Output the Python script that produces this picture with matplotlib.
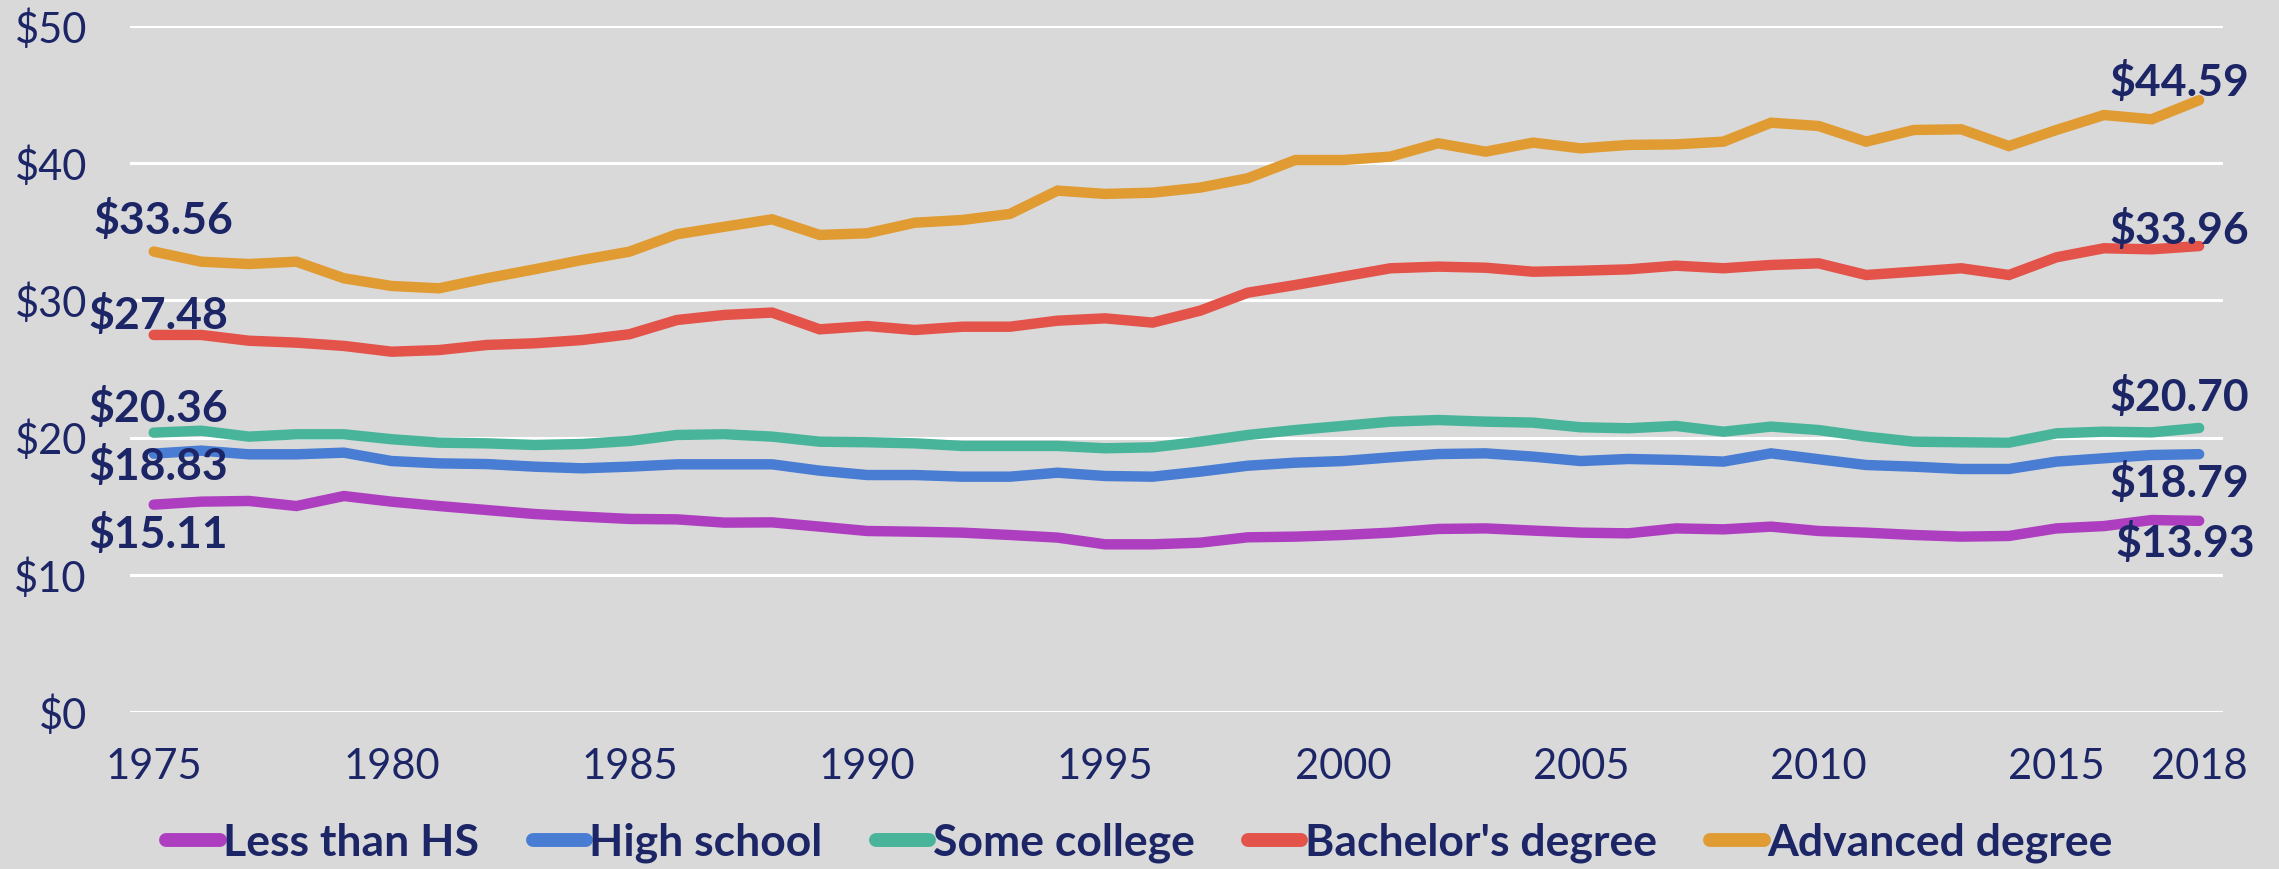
#!/usr/bin/env python3
"""
Hourly wages by education, 1975-2018.
"""

import matplotlib
matplotlib.use('Agg')
import matplotlib.pyplot as plt
from matplotlib.lines import Line2D

plt.rcParams['font.family'] = ['Lato', 'DejaVu Sans']

# data
years = list(range(1975, 2019))

less_than_hs = [15.11, 15.33, 15.38, 15.01, 15.74, 15.33, 15.01, 14.72, 14.43, 14.24,
                14.07, 14.04, 13.80, 13.82, 13.51, 13.19, 13.14, 13.07, 12.90, 12.71,
                12.22, 12.22, 12.34, 12.73, 12.78, 12.90, 13.07, 13.34, 13.38, 13.22,
                13.07, 13.02, 13.38, 13.31, 13.51, 13.19, 13.07, 12.90, 12.78, 12.83,
                13.38, 13.55, 13.99, 13.93]

high_school = [18.83, 19.05, 18.78, 18.78, 18.90, 18.29, 18.12, 18.07, 17.88, 17.76,
               17.88, 18.05, 18.05, 18.05, 17.59, 17.27, 17.27, 17.15, 17.15, 17.44,
               17.20, 17.15, 17.52, 17.95, 18.17, 18.29, 18.56, 18.80, 18.85, 18.61,
               18.29, 18.44, 18.37, 18.25, 18.85, 18.42, 18.00, 17.88, 17.71, 17.71,
               18.25, 18.49, 18.73, 18.79]

some_college = [20.36, 20.50, 20.07, 20.24, 20.24, 19.88, 19.63, 19.58, 19.46, 19.53,
                19.75, 20.19, 20.24, 20.07, 19.70, 19.66, 19.58, 19.39, 19.39, 19.39,
                19.22, 19.29, 19.70, 20.19, 20.55, 20.85, 21.16, 21.28, 21.16, 21.09,
                20.75, 20.68, 20.85, 20.43, 20.80, 20.55, 20.07, 19.70, 19.66, 19.63,
                20.31, 20.43, 20.38, 20.70]

bachelors = [27.48, 27.48, 27.06, 26.92, 26.68, 26.26, 26.38, 26.75, 26.87, 27.11,
             27.53, 28.57, 28.94, 29.11, 27.89, 28.13, 27.84, 28.08, 28.08, 28.52,
             28.69, 28.38, 29.25, 30.56, 31.12, 31.73, 32.34, 32.46, 32.38, 32.09,
             32.16, 32.26, 32.53, 32.34, 32.58, 32.70, 31.85, 32.09, 32.34, 31.85,
             33.14, 33.80, 33.72, 33.96]

advanced = [33.56, 32.82, 32.65, 32.82, 31.61, 31.05, 30.88, 31.61, 32.26, 32.94,
            33.55, 34.82, 35.37, 35.91, 34.77, 34.89, 35.66, 35.86, 36.30, 38.00,
            37.76, 37.85, 38.22, 38.90, 40.23, 40.23, 40.48, 41.45, 40.84, 41.50,
            41.08, 41.33, 41.37, 41.57, 42.95, 42.71, 41.57, 42.42, 42.47, 41.25,
            42.42, 43.51, 43.20, 44.59]

series_names = ['Less than HS', 'High school', 'Some college',
                "Bachelor's degree", 'Advanced degree']
series_values = [less_than_hs, high_school, some_college, bachelors, advanced]
colores = ['#AE3EC0', '#497CD3', '#48B59A', '#E3534A', '#E09C33']

x_ticks = [1975, 1980, 1985, 1990, 1995, 2000, 2005, 2010, 2015, 2018]
y_ticks = [0, 10, 20, 30, 40, 50]

# label offsets in pixels (start, end)
offsets_start = [(5, -29), (5, -12), (5, 25), (5, 20), (10, 32)]
offsets_end = [(-14, -22), (-20, -29), (-20, 31), (-20, 16), (-20, 18)]

BG = '#D9D9D9'
NAVY = '#1C2566'

fig = plt.figure(figsize=(22.79, 8.69), dpi=100, facecolor=BG)
ax = fig.add_axes([0.057, 0.1807, 0.9184, 0.7894], facecolor=BG)

for nombre, vals, color in zip(series_names, series_values, colores):
    ax.plot(years, vals, color=color, lw=7.5, solid_capstyle='round',
            solid_joinstyle='miter', zorder=3)

for vals, off0, off1 in zip(series_values, offsets_start, offsets_end):
    ax.annotate(f'${vals[0]:.2f}', (years[0], vals[0]), xytext=off0,
                textcoords='offset pixels', ha='center', va='center',
                fontsize=32, fontweight='bold', color=NAVY, zorder=4)
    ax.annotate(f'${vals[-1]:.2f}', (years[-1], vals[-1]), xytext=off1,
                textcoords='offset pixels', ha='center', va='center',
                fontsize=32, fontweight='bold', color=NAVY, zorder=4)

ax.set_xlim(1974.5, 2018.5)
ax.set_ylim(0, 50)
ax.set_xticks(x_ticks)
ax.set_xticklabels([str(t) for t in x_ticks])
ax.set_yticks(y_ticks)
ax.set_yticklabels([f'${t}' for t in y_ticks])
ax.tick_params(axis='both', length=0, labelsize=30, labelcolor=NAVY)
ax.tick_params(axis='x', pad=26)
ax.tick_params(axis='y', pad=31)
ax.grid(axis='y', color='white', lw=2.2, zorder=1)
ax.grid(axis='x', visible=False)
for s in ax.spines.values():
    s.set_visible(False)

handles = [Line2D([0], [0], color=c, lw=10, solid_capstyle='round') for c in colores]
leg = fig.legend(handles, series_names, loc='center', bbox_to_anchor=(0.5, 0.03),
                 ncol=5, frameon=False, handlelength=1.2, handletextpad=0.08,
                 columnspacing=1.2, prop={'size': 32, 'weight': 'bold'})
for t in leg.get_texts():
    t.set_color(NAVY)

plt.savefig('out.png', dpi=100, facecolor=BG)
plt.close()
